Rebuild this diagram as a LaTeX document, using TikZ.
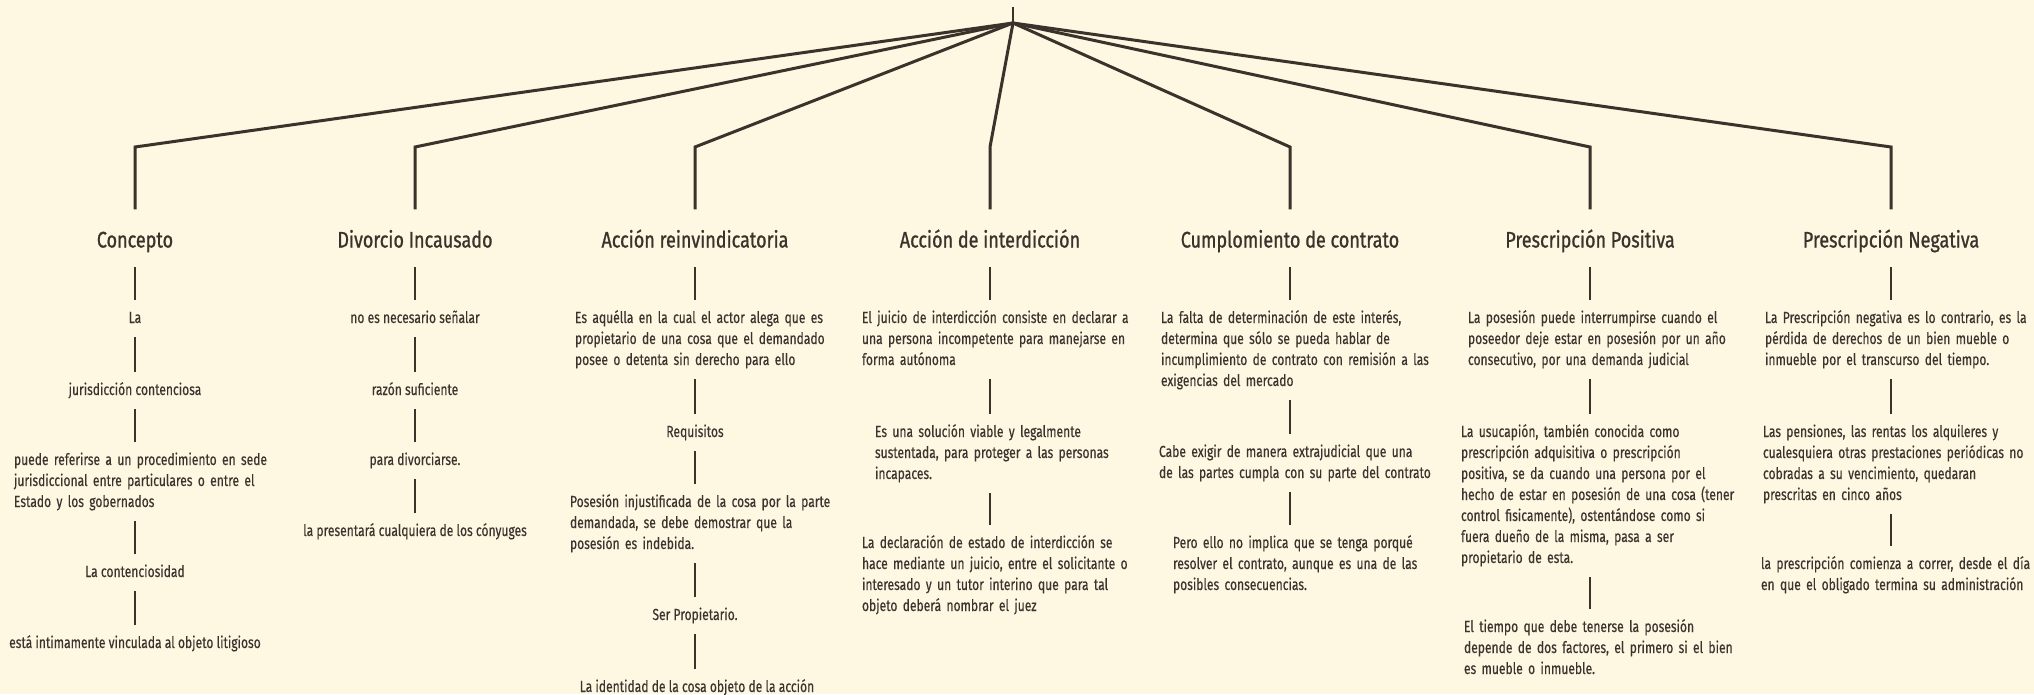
\documentclass[tikz,border=0pt]{standalone}
\usepackage{fontspec}
\setmainfont{Fira Sans}[FakeStretch=0.755, FakeBold=0.35]
\newfontfamily\ttlfont{Fira Sans}[FakeStretch=0.8, FakeBold=0.9]
\definecolor{bg}{HTML}{FEF7E2}
\definecolor{ink}{HTML}{3A332B}
\definecolor{txt}{HTML}{3A342E}
\begin{document}
\begin{tikzpicture}[x=1pt,y=-1pt,
  body/.style={anchor=base, inner sep=0pt, outer xsep=0pt, outer ysep=8pt, text=txt,
    font=\fontsize{16}{21}\selectfont},
  block/.style={body, anchor=base west, text width=#1, align=left},
  ttl/.style={anchor=base, inner sep=0pt, outer xsep=0pt, outer ysep=12pt, text=ink,
    font=\ttlfont\fontsize{22.5}{26}\selectfont},
  branch/.style={draw=ink, line width=3pt, line join=miter, shorten >=8pt},
  conn/.style={draw=ink, line width=2pt}]
\useasboundingbox[fill=bg] (0,0) rectangle (2034,694);

% hub
\coordinate (top) at (1013,7);
\coordinate (hub) at (1013,23);
\draw[draw=ink, line width=2.4pt] (top) -- (hub);

% corners
\coordinate (k1) at (135,147);
\coordinate (k2) at (415,147);
\coordinate (k3) at (695,147);
\coordinate (k4) at (990,147);
\coordinate (k5) at (1290,147);
\coordinate (k6) at (1590,147);
\coordinate (k7) at (1891,147);

% titles
\node[ttl] (t1) at (135,247.5) {\strut Concepto};
\node[ttl] (t2) at (415,247.5) {\strut Divorcio Incausado};
\node[ttl] (t3) at (695,247.5) {\strut Acción reinvindicatoria};
\node[ttl] (t4) at (990,247.5) {\strut Acción de interdicción};
\node[ttl] (t5) at (1290,247.5) {\strut Cumplomiento de contrato};
\node[ttl] (t6) at (1590,247.5) {\strut Prescripción Positiva};
\node[ttl] (t7) at (1891,247.5) {\strut Prescripción Negativa};

\foreach \i in {1,...,7}{
  \draw[branch] (hub) -- (k\i) -- (t\i.north);
}

% column 1
\node[body] (a1) at (135,323) {\strut La};
\node[body] (a2) at (135,395) {\strut jurisdicción contenciosa};
\node[block=300pt] (a3) at (14,465) {\strut puede referirse a un procedimiento en sede\\ jurisdiccional entre particulares o entre el\\ Estado y los gobernados\strut};
\node[body] (a4) at (135,577) {\strut La contenciosidad};
\node[body] (a5) at (135,648) {\strut está intimamente vinculada al objeto litigioso};
\draw[conn] (t1.south) -- (a1.north);
\draw[conn] (a1.south) -- (a2.north);
\draw[conn] (a2.south) -- (a3.north -| k1);
\draw[conn] (a3.south -| k1) -- (a4.north);
\draw[conn] (a4.south) -- (a5.north);

% column 2
\node[body] (b1) at (415,323) {\strut no es necesario señalar};
\node[body] (b2) at (415,395) {\strut razón suficiente};
\node[body] (b3) at (415,465) {\strut para divorciarse.};
\node[body] (b4) at (415,536) {\strut la presentará cualquiera de los cónyuges};
\draw[conn] (t2.south) -- (b1.north);
\draw[conn] (b1.south) -- (b2.north);
\draw[conn] (b2.south) -- (b3.north);
\draw[conn] (b3.south) -- (b4.north);

% column 3
\node[block=300pt] (c1) at (575,323) {\strut Es aquélla en la cual el actor alega que es\\ propietario de una cosa que el demandado\\ posee o detenta sin derecho para ello\strut};
\node[body] (c2) at (695,437) {\strut Requisitos};
\node[block=300pt] (c3) at (570,507) {\strut Posesión injustificada de la cosa por la parte\\ demandada, se debe demostrar que la\\ posesión es indebida.\strut};
\node[body] (c4) at (695,620) {\strut Ser Propietario.};
\node[body] (c5) at (697,692) {\strut La identidad de la cosa objeto de la acción};
\draw[conn] (t3.south) -- (c1.north -| k3);
\draw[conn] (c1.south -| k3) -- (c2.north);
\draw[conn] (c2.south) -- (c3.north -| k3);
\draw[conn] (c3.south -| k3) -- (c4.north);
\draw[conn] (c4.south) -- (c5.north -| k3);

% column 4
\node[block=300pt] (d1) at (862,323) {\strut El juicio de interdicción consiste en declarar a\\ una persona incompetente para manejarse en\\ forma autónoma\strut};
\node[block=300pt] (d2) at (875,437) {\strut Es una solución viable y legalmente\\ sustentada, para proteger a las personas\\ incapaces.\strut};
\node[block=300pt] (d3) at (862,548) {\strut La declaración de estado de interdicción se\\ hace mediante un juicio, entre el solicitante o\\ interesado y un tutor interino que para tal\\ objeto deberá nombrar el juez\strut};
\draw[conn] (t4.south) -- (d1.north -| k4);
\draw[conn] (d1.south -| k4) -- (d2.north -| k4);
\draw[conn] (d2.south -| k4) -- (d3.north -| k4);

% column 5
\node[block=300pt] (e1) at (1161,323) {\strut La falta de determinación de este interés,\\ determina que sólo se pueda hablar de\\ incumplimiento de contrato con remisión a las\\ exigencias del mercado\strut};
\node[block=300pt] (e2) at (1159,457) {\strut Cabe exigir de manera extrajudicial que una\\ de las partes cumpla con su parte del contrato\strut};
\node[block=300pt] (e3) at (1173,548) {\strut Pero ello no implica que se tenga porqué\\ resolver el contrato, aunque es una de las\\ posibles consecuencias.\strut};
\draw[conn] (t5.south) -- (e1.north -| k5);
\draw[conn] (e1.south -| k5) -- (e2.north -| k5);
\draw[conn] (e2.south -| k5) -- (e3.north -| k5);

% column 6
\node[block=300pt] (f1) at (1468,323) {\strut La posesión puede interrumpirse cuando el\\ poseedor deje estar en posesión por un año\\ consecutivo, por una demanda judicial\strut};
\node[block=300pt] (f2) at (1461,437) {\strut La usucapión, también conocida como\\ prescripción adquisitiva o prescripción\\ positiva, se da cuando una persona por el\\ hecho de estar en posesión de una cosa (tener\\ control fisicamente), ostentándose como si\\ fuera dueño de la misma, pasa a ser\\ propietario de esta.\strut};
\node[block=300pt] (f3) at (1464,632) {\strut El tiempo que debe tenerse la posesión\\ depende de dos factores, el primero si el bien\\ es mueble o inmueble.\strut};
\draw[conn] (t6.south) -- (f1.north -| k6);
\draw[conn] (f1.south -| k6) -- (f2.north -| k6);
\draw[conn] (f2.south -| k6) -- (f3.north -| k6);

% column 7
\node[block=300pt] (g1) at (1765,323) {\strut La Prescripción negativa es lo contrario, es la\\ pérdida de derechos de un bien mueble o\\ inmueble por el transcurso del tiempo.\strut};
\node[block=300pt] (g2) at (1763,437) {\strut Las pensiones, las rentas los alquileres y\\ cualesquiera otras prestaciones periódicas no\\ cobradas a su vencimiento, quedaran\\ prescritas en cinco años\strut};
\node[block=300pt] (g3) at (1761,569) {\strut la prescripción comienza a correr, desde el día\\ en que el obligado termina su administración\strut};
\draw[conn] (t7.south) -- (g1.north -| k7);
\draw[conn] (g1.south -| k7) -- (g2.north -| k7);
\draw[conn] (g2.south -| k7) -- (g3.north -| k7);
\end{tikzpicture}
\end{document}
